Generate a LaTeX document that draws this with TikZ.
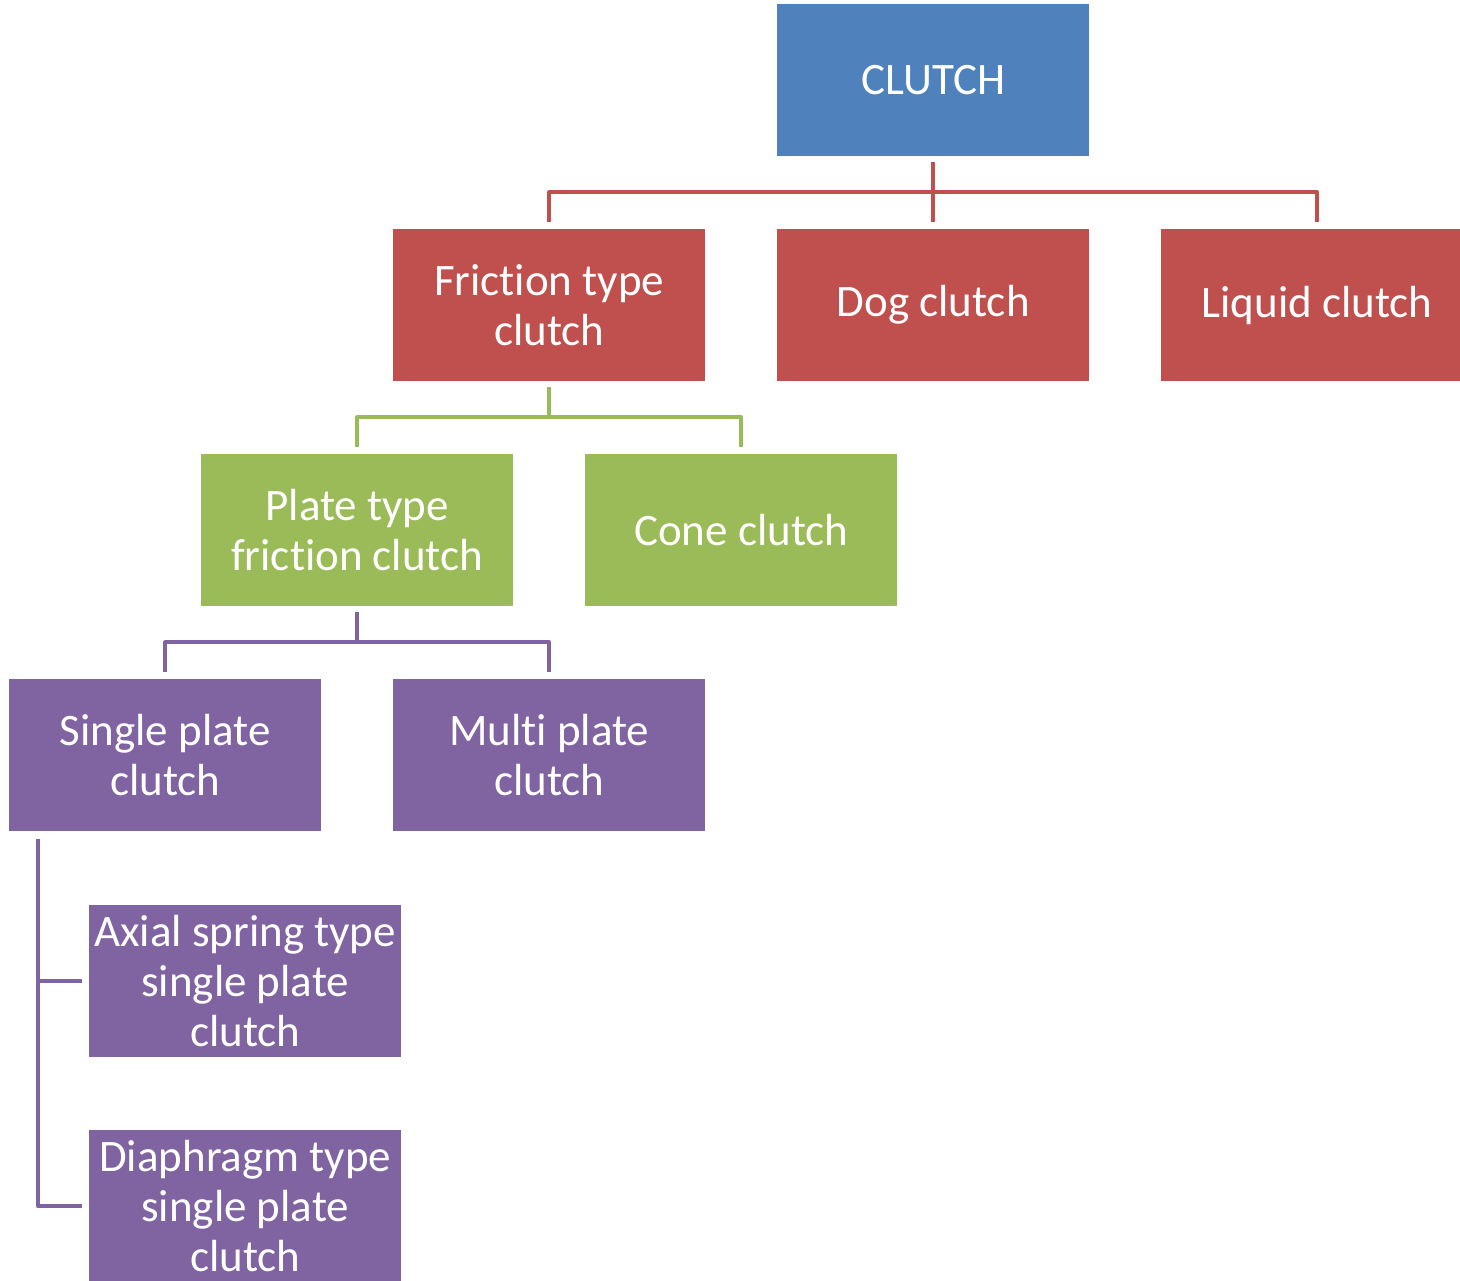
\documentclass[tikz,border=0pt]{standalone}
\usepackage{fontspec}
\setmainfont{Carlito}[Ligatures={NoCommon}]
\usetikzlibrary{calc}
\definecolor{cblue}{HTML}{4F81BD}
\definecolor{cred}{HTML}{C0504D}
\definecolor{cgreen}{HTML}{9BBB59}
\definecolor{cpurple}{HTML}{8064A2}
\tikzset{
  box/.style={rectangle, minimum width=312pt, minimum height=152pt, inner sep=0pt,
    text=white, align=center, font=\fontsize{45}{50}\selectfont, anchor=north west},
  conn/.style={line width=4pt, line join=round, shorten <=6pt, shorten >=7pt},
}
\begin{document}
\begin{tikzpicture}[x=1pt,y=-1pt]
\useasboundingbox (0,0) rectangle (1460,1281);
\clip (0,0) rectangle (1460,1281);
\node[box, fill=cblue] (clutch) at (777,4) {CLUTCH};
\node[box, fill=cred] (friction) at (393,229) {Friction type\\clutch};
\node[box, fill=cred] (dog) at (777,229) {Dog clutch};
\node[box, fill=cred] (liquid) at (1161,229) {Liquid clutch};
\node[box, fill=cgreen] (plate) at (201,454) {Plate type\\friction clutch};
\node[box, fill=cgreen] (cone) at (585,454) {Cone clutch};
\node[box, fill=cpurple] (single) at (9,679) {Single plate\\clutch};
\node[box, fill=cpurple] (multi) at (393,679) {Multi plate\\clutch};
\node[box, fill=cpurple] (axial) at (89,905) {Axial spring type\\single plate\\clutch};
\node[box, fill=cpurple] (diaph) at (89,1130) {Diaphragm type\\single plate\\clutch};

\foreach \c in {friction,dog,liquid}
  \draw[conn, cred] (clutch.south) -- ++(0,36) -| (\c.north);
\foreach \c in {plate,cone}
  \draw[conn, cgreen] (friction.south) -- ++(0,36) -| (\c.north);
\foreach \c in {single,multi}
  \draw[conn, cpurple] (plate.south) -- ++(0,36) -| (\c.north);
\coordinate (sp) at ($(single.south west)+(29,0)$);
\foreach \c in {axial,diaph}
  \draw[conn, cpurple, shorten <=8pt] (sp) |- (\c.west);
\end{tikzpicture}
\end{document}
